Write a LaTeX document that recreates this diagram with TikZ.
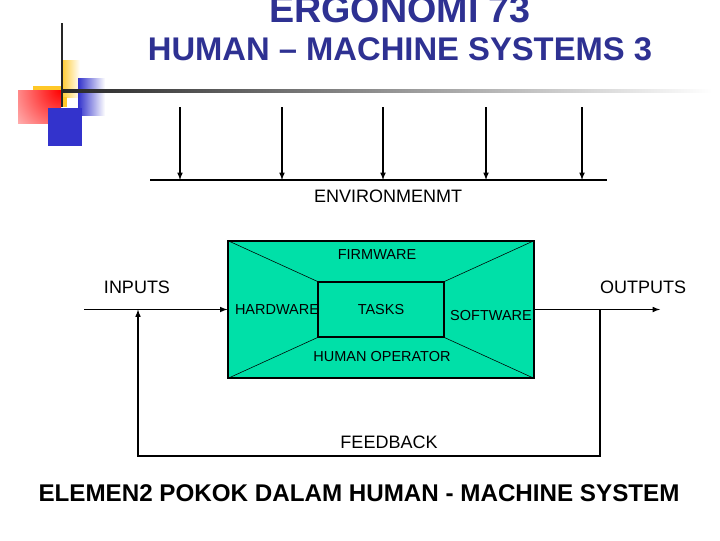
\documentclass[tikz,border=0pt]{standalone}
\usepackage{fontspec}
\setmainfont{Liberation Sans}
\definecolor{titleblue}{RGB}{46,49,146}
\definecolor{boxgreen}{RGB}{0,224,168}
\definecolor{decoblue}{RGB}{51,51,204}
\definecolor{decoyellow}{RGB}{255,200,40}
\tikzset{
    lbl/.style={inner sep=0pt, font=\fontsize{12.8}{14}\selectfont},
    small/.style={inner sep=0pt, font=\fontsize{10.3}{12}\selectfont},
    ttl/.style={inner sep=0pt, text=titleblue},
}
\begin{document}
\begin{tikzpicture}[x=0.025cm, y=-0.025cm, line width=0.8pt]
        \useasboundingbox (0,0) rectangle (720,540);
        % corner decoration
        \begin{scope}
            \clip (18,90) rectangle (61,123);
            \shade[inner color=red, outer color=white] (61,90) circle (80);
        \end{scope}
        \shade[left color=decoyellow, right color=white] (61,60) rectangle (80,97);
        \fill[decoyellow] (33,86) rectangle (61,90);
        \fill[decoyellow] (61,97) rectangle (67,107);
        \shade[left color=decoblue, right color=white] (78,78) rectangle (105,115);
        \fill[decoblue] (48,108) rectangle (82,146);
        \draw[line width=1.6pt, black!85] (62,23) -- (62,107);
        \shade[left color=black!85, right color=white] (61,89.7) rectangle (712,92.3);
        % titles
        \node[ttl, font=\bfseries\fontsize{26.8}{30}\selectfont] (title) at (400,10) {ERGONOMI 73};
        \node[ttl, font=\bfseries\fontsize{23.3}{26}\selectfont] (subtitle) at (400,49) {HUMAN – MACHINE SYSTEMS 3};
        % environment
        \coordinate (envL) at (150,180);
        \coordinate (envR) at (607,180);
        \draw (envL) -- (envR);
        \foreach \x [count=\i] in {180, 282, 383, 486, 582}{
            \coordinate (top\i) at (\x,107);
            \coordinate (bot\i) at (\x,180);
            \draw[-latex] (top\i) -- (bot\i);
        }
        \node[lbl] (env) at (388,196) {ENVIRONMENMT};
        % system box
        \node[draw, fill=boxgreen, inner sep=0pt, minimum width=7.65cm, minimum height=3.425cm] (sys) at (381,309.5) {};
        \node[draw, fill=boxgreen, inner sep=0pt, minimum width=3.15cm, minimum height=1.375cm, font=\fontsize{10.3}{12}\selectfont] (tsk) at (381,309.5) {TASKS};
        \foreach \c in {north west, north east, south west, south east}{
            \draw[line width=0.4pt] (sys.\c) -- (tsk.\c);
        }
        \node[small] (firm) at (377,255) {FIRMWARE};
        \node[small] (hard) at (277,310) {HARDWARE};
        \node[small] (soft) at (491,316) {SOFTWARE};
        \node[small] (human) at (382,357) {HUMAN OPERATOR};
        % inputs, outputs, feedback
        \coordinate (inL) at (84,309.5);
        \coordinate (outR) at (660,309.5);
        \draw[-latex] (inL) -- (sys.west);
        \draw[-latex] (sys.east) -- (outR);
        \node[lbl] (inputs) at (137,287) {INPUTS};
        \node[lbl] (outputs) at (643,287) {OUTPUTS};
        \coordinate (fbR) at (600,309.5);
        \coordinate (fbB) at (600,456);
        \coordinate (fbL) at (138,309.5);
        \draw[-latex] (fbR) -- (fbB) -| (fbL);
        \node[lbl] (feedback) at (389,442) {FEEDBACK};
        % caption
        \node[inner sep=0pt, font=\bfseries\fontsize{17.2}{20}\selectfont] (caption) at (359,493) {ELEMEN2 POKOK DALAM HUMAN - MACHINE SYSTEM};
    \end{tikzpicture}
\end{document}
